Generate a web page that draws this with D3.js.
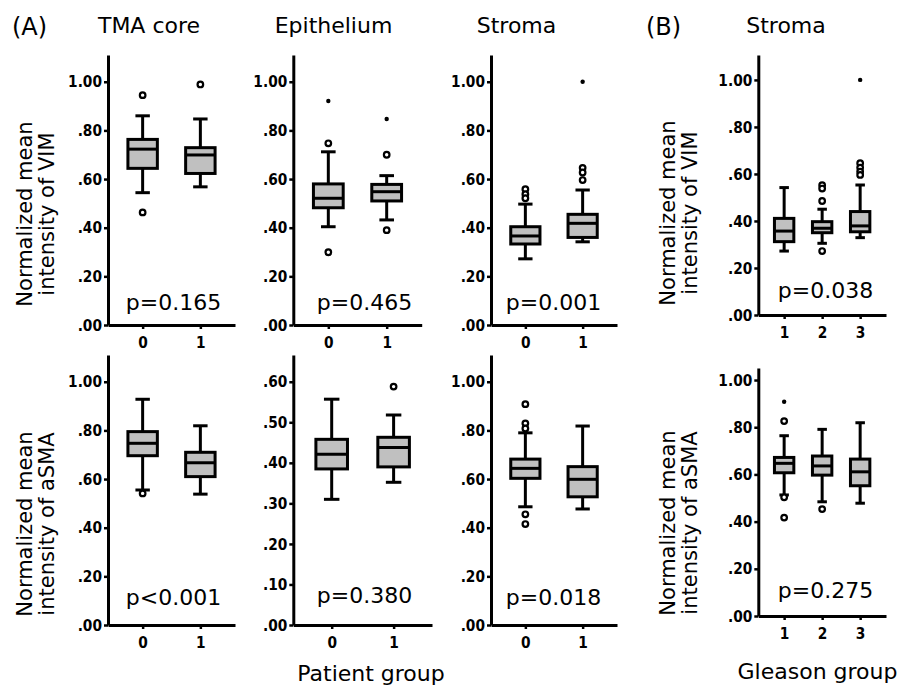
<!DOCTYPE html>
<html><head><meta charset="utf-8">
<script src="https://cdn.jsdelivr.net/npm/d3@7"></script>
<style>
html,body{margin:0;padding:0;background:#fff;}
text{font-family:"DejaVu Sans",sans-serif;fill:#000;}
</style></head>
<body>
<svg id="chart" width="907" height="687"></svg>
<script>
// ---------- DATA ----------
const groupsA = ["0", "1"];
const groupsB = ["1", "2", "3"];
const ticksUnit = [0, 0.2, 0.4, 0.6, 0.8, 1.0];
const ticksEpiSma = [0, 0.1, 0.2, 0.3, 0.4, 0.5, 0.6];

// each box: [lower whisker, Q1, median, Q3, upper whisker]
const tmaVim   = [[0.544, 0.644, 0.723, 0.763, 0.860], [0.568, 0.623, 0.699, 0.729, 0.847]];
const epiVim   = [[0.404, 0.482, 0.521, 0.580, 0.712], [0.432, 0.510, 0.548, 0.578, 0.614]];
const strVim   = [[0.272, 0.333, 0.366, 0.404, 0.497], [0.342, 0.360, 0.418, 0.455, 0.555]];
const gleVim   = [[0.272, 0.312, 0.357, 0.411, 0.542], [0.305, 0.350, 0.369, 0.397, 0.450], [0.329, 0.354, 0.379, 0.440, 0.553]];
const tmaSma   = [[0.555, 0.696, 0.747, 0.795, 0.928], [0.538, 0.610, 0.667, 0.710, 0.819]];
const epiSma   = [[0.310, 0.385, 0.421, 0.458, 0.557], [0.352, 0.390, 0.438, 0.463, 0.518]];
const strSma   = [[0.486, 0.603, 0.644, 0.682, 0.790], [0.477, 0.527, 0.599, 0.651, 0.818]];
const gleSma   = [[0.513, 0.607, 0.647, 0.672, 0.764], [0.484, 0.597, 0.636, 0.678, 0.791], [0.478, 0.552, 0.611, 0.665, 0.819]];

// outliers: [group, value, kind]  kind "o" = circle, "*" = extreme (small dot)
const tmaVimOut = [["0", 0.945, "o"], ["0", 0.463, "o"], ["1", 0.989, "o"]];
const epiVimOut = [["0", 0.921, "*"], ["0", 0.747, "o"], ["0", 0.299, "o"], ["1", 0.847, "*"], ["1", 0.700, "o"], ["1", 0.390, "o"]];
const strVimOut = [["0", 0.558, "o"], ["0", 0.538, "o"], ["0", 0.521, "o"], ["1", 1.000, "*"], ["1", 0.646, "o"], ["1", 0.627, "o"], ["1", 0.596, "o"]];
const gleVimOut = [["2", 0.552, "o"], ["2", 0.538, "o"], ["2", 0.485, "o"], ["2", 0.272, "o"], ["3", 1.000, "*"], ["3", 0.646, "o"], ["3", 0.627, "o"], ["3", 0.610, "o"], ["3", 0.596, "o"]];
const tmaSmaOut = [["0", 0.541, "o"]];
const epiSmaOut = [["1", 0.588, "o"]];
const strSmaOut = [["0", 0.908, "o"], ["0", 0.829, "o"], ["0", 0.808, "o"], ["0", 0.455, "o"], ["0", 0.415, "o"]];
const gleSmaOut = [["1", 0.908, "*"], ["1", 0.826, "o"], ["1", 0.503, "o"], ["1", 0.417, "o"], ["2", 0.453, "o"]];

const pValues = ["p=0.165", "p=0.465", "p=0.001", "p=0.038", "p<0.001", "p=0.380", "p=0.018", "p=0.275"];
const colTitles = ["TMA core", "Epithelium", "Stroma", "Stroma"];
const sectionLabels = ["(A)", "(B)"];
const yTitlesVim = ["Normalized mean", "intensity of VIM"];
const yTitlesSma = ["Normalized mean", "intensity of aSMA"];
const xTitles = ["Patient group", "Gleason group"];

// ---------- LAYOUT ----------
const svg = d3.select("#chart");
svg.append("rect").attr("width", 907).attr("height", 687).attr("fill", "#fff");

const panels = [
  {groups: groupsA, stats: tmaVim, out: tmaVimOut, ticks: ticksUnit, x0: 108, x1: 235, base: 325, top: 55, ymax: 1.11, pad: 0.6, p: pValues[0], px: 173.5, py: 310},
  {groups: groupsA, stats: epiVim, out: epiVimOut, ticks: ticksUnit, x0: 293.3, x1: 421.7, base: 325, top: 55, ymax: 1.11, pad: 0.6, p: pValues[1], px: 364.5, py: 310},
  {groups: groupsA, stats: strVim, out: strVimOut, ticks: ticksUnit, x0: 491, x1: 617, base: 325, top: 55, ymax: 1.11, pad: 0.6, p: pValues[2], px: 553.5, py: 310},
  {groups: groupsB, stats: gleVim, out: gleVimOut, ticks: ticksUnit, x0: 758.3, x1: 886, base: 315, top: 55, ymax: 1.106, pad: 0.68, p: pValues[3], px: 825.5, py: 298},
  {groups: groupsA, stats: tmaSma, out: tmaSmaOut, ticks: ticksUnit, x0: 108, x1: 235, base: 625, top: 355, ymax: 1.11, pad: 0.6, p: pValues[4], px: 173.5, py: 605},
  {groups: groupsA, stats: epiSma, out: epiSmaOut, ticks: ticksEpiSma, x0: 293.3, x1: 432, base: 625, top: 355, ymax: 0.666, pad: 0.62, p: pValues[5], px: 364.5, py: 603},
  {groups: groupsA, stats: strSma, out: strSmaOut, ticks: ticksUnit, x0: 491, x1: 617, base: 625, top: 355, ymax: 1.11, pad: 0.6, p: pValues[6], px: 553.5, py: 605},
  {groups: groupsB, stats: gleSma, out: gleSmaOut, ticks: ticksUnit, x0: 758.3, x1: 886, base: 616, top: 368, ymax: 1.051, pad: 0.68, p: pValues[7], px: 825.5, py: 598}
];

const fmt = d => d3.format(".2f")(d).replace(/^0/, "");

panels.forEach(P => {
  const g = svg.append("g");
  const x = d3.scalePoint().domain(P.groups).range([P.x0, P.x1]).padding(P.pad);
  const y = d3.scaleLinear().domain([0, P.ymax]).range([P.base, P.top]);
  const step = x.step();
  const bw = step * 0.51, cw = step * 0.25;

  // y axis
  const ya = g.append("g").attr("transform", `translate(${P.x0},0)`)
    .call(d3.axisLeft(y).tickValues(P.ticks).tickFormat(fmt).tickSize(4).tickSizeOuter(0).tickPadding(3));
  // x axis
  const xa = g.append("g").attr("transform", `translate(0,${P.base})`)
    .call(d3.axisBottom(x).tickSize(4).tickSizeOuter(0).tickPadding(8));
  [ya, xa].forEach(a => {
    a.attr("font-size", null).attr("font-family", null);
    a.select(".domain").attr("stroke", "#000").attr("stroke-width", 3);
    a.selectAll(".tick line").attr("stroke", "#000").attr("stroke-width", 2.5);
    a.selectAll(".tick text")
      .style("font-family", "'DejaVu Sans', sans-serif").style("font-weight", "bold")
      .style("font-size", "16px").attr("fill", "#000")
      .attr("transform", "scale(0.86,1)");
  });

  // boxes
  const bx = g.selectAll("g.box").data(P.stats).join("g").attr("class", "box");
  bx.each(function(s, i) {
    const cx = x(P.groups[i]);
    const b = d3.select(this);
    b.append("line").attr("x1", cx).attr("x2", cx).attr("y1", y(s[0])).attr("y2", y(s[4]))
      .attr("stroke", "#000").attr("stroke-width", 3);
    [s[0], s[4]].forEach(v => b.append("line").attr("x1", cx - cw / 2).attr("x2", cx + cw / 2)
      .attr("y1", y(v)).attr("y2", y(v)).attr("stroke", "#000").attr("stroke-width", 3));
    b.append("rect").attr("x", cx - bw / 2).attr("width", bw).attr("y", y(s[3])).attr("height", y(s[1]) - y(s[3]))
      .attr("fill", "#c0c0c0").attr("stroke", "#000").attr("stroke-width", 3);
    b.append("line").attr("x1", cx - bw / 2).attr("x2", cx + bw / 2).attr("y1", y(s[2])).attr("y2", y(s[2]))
      .attr("stroke", "#000").attr("stroke-width", 3);
  });

  // outliers
  g.selectAll("circle.out").data(P.out).join("circle").attr("class", "out")
    .attr("cx", d => x(d[0])).attr("cy", d => y(d[1]))
    .attr("r", d => d[2] === "o" ? 2.8 : 2.2)
    .attr("fill", d => d[2] === "o" ? "#fff" : "#000")
    .attr("stroke", "#000").attr("stroke-width", d => d[2] === "o" ? 2.2 : 0);

  // p-value
  g.append("text").attr("x", P.px).attr("y", P.py).attr("text-anchor", "middle")
    .attr("font-size", 22).text(P.p);
});

// y-axis titles
function yTitle(lines, cx, cy) {
  const t = svg.append("text").attr("transform", `translate(${cx},${cy}) rotate(-90)`)
    .attr("text-anchor", "middle").attr("font-size", 21);
  lines.forEach((l, i) => t.append("tspan").attr("x", 0).attr("y", i * 22).text(l));
}
yTitle(yTitlesVim, 32, 214);
yTitle(yTitlesSma, 32, 524);
yTitle(yTitlesVim, 675, 213);
yTitle(yTitlesSma, 675, 523);

// headers
svg.append("text").attr("x", 12).attr("y", 35).attr("font-size", 24).text(sectionLabels[0]);
svg.append("text").attr("x", 646).attr("y", 35).attr("font-size", 24).text(sectionLabels[1]);
[[149, colTitles[0]], [333.5, colTitles[1]], [516.5, colTitles[2]], [786, colTitles[3]]].forEach(([cx, t]) =>
  svg.append("text").attr("x", cx).attr("y", 33).attr("text-anchor", "middle").attr("font-size", 22).text(t));

// x titles
svg.append("text").attr("x", 371).attr("y", 681).attr("text-anchor", "middle").attr("font-size", 22).text(xTitles[0]);
svg.append("text").attr("x", 817.5).attr("y", 679).attr("text-anchor", "middle").attr("font-size", 22).text(xTitles[1]);
</script>
</body></html>
